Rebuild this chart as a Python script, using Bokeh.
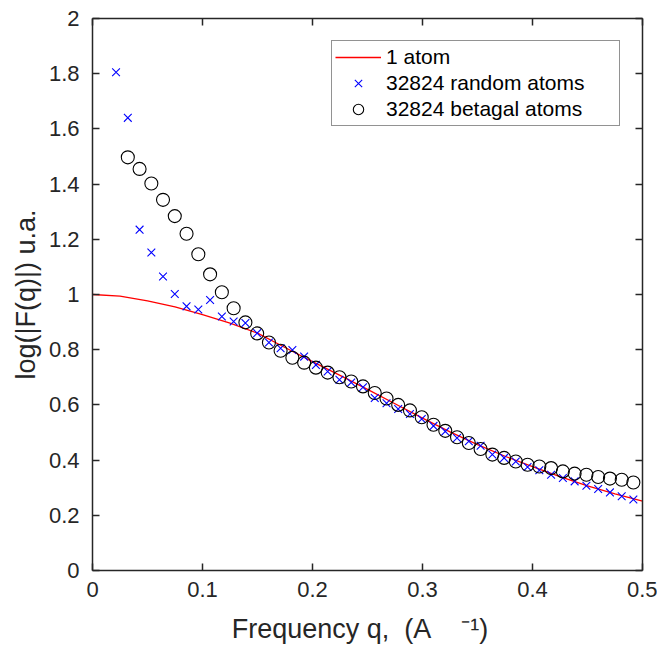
from bokeh.plotting import figure
from bokeh.models import (LinearAxis, FixedTicker, Legend, LegendItem, Range1d)
from bokeh.embed import file_html
from bokeh.resources import INLINE

# ---- data ----
q_line = [0.0, 0.025, 0.05, 0.075, 0.1, 0.125, 0.15, 0.175, 0.2, 0.225, 0.25,
          0.275, 0.3, 0.325, 0.35, 0.375, 0.4, 0.425, 0.45, 0.475, 0.5]
f_one_atom = [1.000, 0.994, 0.977, 0.955, 0.927, 0.896, 0.860, 0.808, 0.757, 0.707, 0.656,
              0.604, 0.552, 0.502, 0.456, 0.414, 0.376, 0.340, 0.307, 0.278, 0.251]

q_random = [0.0214, 0.0321, 0.0428, 0.0535, 0.0641, 0.0748, 0.0855, 0.0962, 0.1069, 0.1176,
            0.1283, 0.1390, 0.1497, 0.1604, 0.1710, 0.1817, 0.1924, 0.2031, 0.2138, 0.2245,
            0.2352, 0.2459, 0.2566, 0.2673, 0.2779, 0.2886, 0.2993, 0.3100, 0.3207, 0.3314,
            0.3421, 0.3528, 0.3635, 0.3742, 0.3848, 0.3955, 0.4062, 0.4169, 0.4276, 0.4383,
            0.4490, 0.4597, 0.4704, 0.4811, 0.4917]
f_random = [1.805, 1.640, 1.235, 1.152, 1.065, 1.002, 0.957, 0.946, 0.980, 0.920,
            0.902, 0.897, 0.860, 0.826, 0.805, 0.799, 0.775, 0.745, 0.721, 0.691,
            0.681, 0.664, 0.625, 0.606, 0.585, 0.567, 0.549, 0.524, 0.504, 0.480,
            0.468, 0.452, 0.420, 0.408, 0.395, 0.375, 0.363, 0.347, 0.335, 0.323,
            0.307, 0.295, 0.283, 0.269, 0.257]

q_betagal = [0.0321, 0.0428, 0.0535, 0.0641, 0.0748, 0.0855, 0.0962, 0.1069, 0.1176,
             0.1283, 0.1390, 0.1497, 0.1604, 0.1710, 0.1817, 0.1924, 0.2031, 0.2138, 0.2245,
             0.2352, 0.2459, 0.2566, 0.2673, 0.2779, 0.2886, 0.2993, 0.3100, 0.3207, 0.3314,
             0.3421, 0.3528, 0.3635, 0.3742, 0.3848, 0.3955, 0.4062, 0.4169, 0.4276, 0.4383,
             0.4490, 0.4597, 0.4704, 0.4811, 0.4917]
f_betagal = [1.497, 1.455, 1.402, 1.343, 1.284, 1.220, 1.146, 1.073, 1.008,
             0.950, 0.899, 0.859, 0.826, 0.796, 0.771, 0.753, 0.735, 0.717, 0.700,
             0.685, 0.667, 0.643, 0.623, 0.600, 0.580, 0.555, 0.528, 0.506, 0.483,
             0.462, 0.440, 0.420, 0.408, 0.395, 0.383, 0.377, 0.371, 0.359, 0.351,
             0.347, 0.339, 0.333, 0.329, 0.319]

x_ticks = [0, 0.1, 0.2, 0.3, 0.4, 0.5]
x_tick_labels = ["0", "0.1", "0.2", "0.3", "0.4", "0.5"]
y_ticks = [0, 0.2, 0.4, 0.6, 0.8, 1, 1.2, 1.4, 1.6, 1.8, 2]
y_tick_labels = ["0", "0.2", "0.4", "0.6", "0.8", "1", "1.2", "1.4", "1.6", "1.8", "2"]

legend_labels = ["1 atom", "32824 random atoms", "32824 betagal atoms"]
y_label = "log(|F(q)|) u.a."
NB = "\u00a0"
x_label = "Frequency q," + NB * 2 + "(A" + NB * 4 + "\u207b\u00b9)" + NB * 2

FONT = "Liberation Sans"
DARK = "#262626"

p = figure(width=657, height=646, output_backend="svg", toolbar_location=None,
           x_range=Range1d(0, 0.5), y_range=Range1d(0, 2),
           x_axis_location=None, y_axis_location=None,
           min_border_left=92, min_border_right=15, min_border_top=18, min_border_bottom=75)
p.outline_line_color = None
p.xgrid.visible = False
p.ygrid.visible = False
p.background_fill_color = "white"
p.border_fill_color = "white"


def style_axis(ax, ticks, labels, show_labels):
    ax.ticker = FixedTicker(ticks=ticks)
    ax.axis_line_color = DARK
    ax.axis_line_width = 1.5
    ax.major_tick_line_color = DARK
    ax.major_tick_line_width = 1.5
    ax.major_tick_in = 7
    ax.major_tick_out = 0
    ax.minor_tick_line_color = None
    ax.major_label_text_font = FONT
    if show_labels:
        ax.major_label_overrides = {t: l for t, l in zip(ticks, labels)}
        ax.major_label_text_color = DARK
        ax.major_label_text_font_size = "22px"
    else:
        ax.major_label_text_color = None
        ax.major_label_text_font_size = "8px"
        ax.major_label_standoff = 0


xb = LinearAxis(axis_label=x_label)
style_axis(xb, x_ticks, x_tick_labels, True)
xb.major_label_standoff = 11
xb.axis_label_text_font = FONT
xb.axis_label_text_font_size = "27px"
xb.axis_label_text_font_style = "normal"
xb.axis_label_text_color = DARK
xb.axis_label_standoff = 14
p.add_layout(xb, "below")

yl = LinearAxis(axis_label=y_label)
style_axis(yl, y_ticks, y_tick_labels, True)
yl.major_label_standoff = 13
yl.axis_label_text_font = FONT
yl.axis_label_text_font_size = "27px"
yl.axis_label_text_font_style = "normal"
yl.axis_label_text_color = DARK
yl.axis_label_standoff = 5
p.add_layout(yl, "left")

xt = LinearAxis()
style_axis(xt, x_ticks, x_tick_labels, False)
p.add_layout(xt, "above")

yr = LinearAxis()
style_axis(yr, y_ticks, y_tick_labels, False)
p.add_layout(yr, "right")

r_line = p.line(q_line, f_one_atom, line_color="#ff0000", line_width=1.3)
r_rand = p.scatter(q_random, f_random, marker="x", size=11, line_color="#0000ff",
                   line_width=1.1)
r_beta = p.scatter(q_betagal, f_betagal, marker="circle", size=13, fill_color=None,
                   line_color="#000000", line_width=1.1)

legend = Legend(items=[LegendItem(label=legend_labels[0], renderers=[r_line]),
                       LegendItem(label=legend_labels[1], renderers=[r_rand]),
                       LegendItem(label=legend_labels[2], renderers=[r_beta])],
                location=(239, 444))
legend.label_text_font = FONT
legend.label_text_font_size = "21px"
legend.label_text_color = "#000000"
legend.glyph_width = 46
legend.glyph_height = 26
legend.label_height = 26
legend.label_width = 230
legend.label_standoff = 5
legend.spacing = 0
legend.padding = 3
legend.margin = 0
legend.border_line_color = DARK
legend.border_line_width = 1.3
legend.background_fill_color = "white"
legend.background_fill_alpha = 1.0
p.add_layout(legend, "center")

open("out.html", "w").write(file_html(p, INLINE))
